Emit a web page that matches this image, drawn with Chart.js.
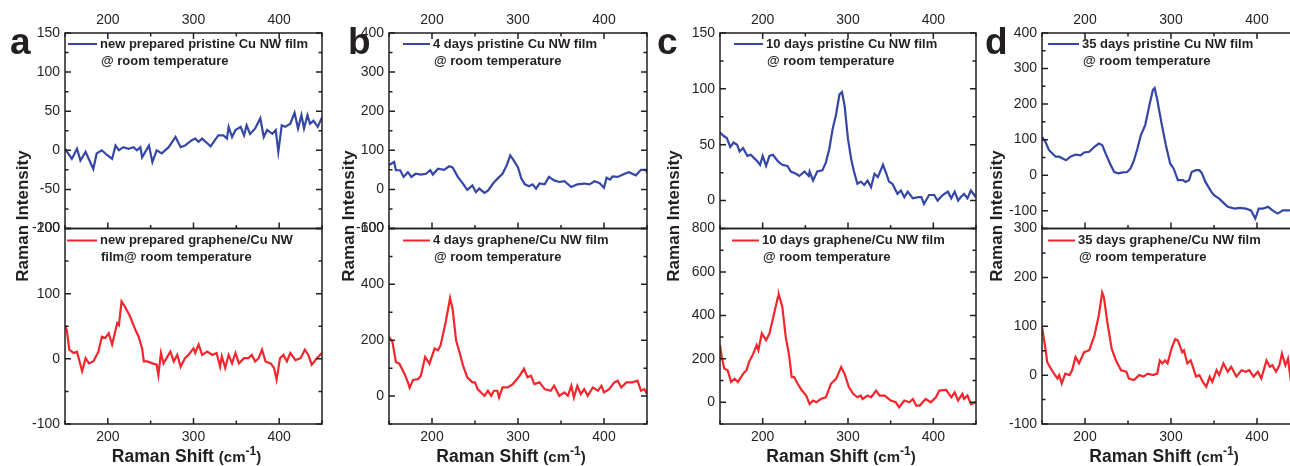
<!DOCTYPE html>
<html>
<head>
<meta charset="utf-8">
<script src="https://cdn.jsdelivr.net/npm/chart.js@4.4.1/dist/chart.umd.min.js"></script>
<style>
  html, body { margin: 0; padding: 0; background: #fff; width: 1290px; height: 466px; overflow: hidden; }
  canvas { position: absolute; top: 0; }
</style>
</head>
<body>
<canvas id="panel-a" width="326" height="466" style="left:0px"></canvas>
<canvas id="panel-b" width="328" height="466" style="left:326px"></canvas>
<canvas id="panel-c" width="323" height="466" style="left:654px"></canvas>
<canvas id="panel-d" width="330" height="466" style="left:977px"></canvas>
<script>
/* Raman spectra of pristine vs graphene-coated Cu NW films, 4 ageing stages,
   each panel = two stacked subplots sharing the Raman shift axis. */

// ─── Data ───────────────────────────────────────────────────────────────────

const X_RANGE = [150, 450];
const X_TICKS = [200, 300, 400];

// a — new prepared
const aPristineX = [150,158,164,168,174,183,187,193,199,205,209,213,218,224,230,234,238,240,248,252,257,263,271,279,285,290,298,302,306,310,316,320,325,329,335,339,341,345,349,355,359,362,366,372,378,382,386,392,396,399,403,407,413,418,422,426,429,433,436,440,445,450];
const aPristineY = [2,-11,2,-13,-2,-24,-4,0,-6,-11,6,0,4,2,4,0,4,-9,6,-15,0,-4,4,17,4,6,13,15,11,15,9,5,13,19,19,15,30,17,26,30,19,32,21,28,41,17,26,21,26,-2,32,30,34,48,28,45,28,45,34,38,30,42];
const aGrapheneX = [150,152,155,160,164,170,174,178,183,185,189,193,197,201,205,211,213,216,220,226,232,236,240,242,246,252,257,259,262,265,273,277,281,285,290,294,300,302,306,310,316,322,327,331,333,337,341,345,349,353,359,364,368,372,376,380,384,390,394,397,401,405,409,413,419,425,430,434,438,444,450];
const aGrapheneY = [50,45,14,9,11,-19,1,-7,-4,1,11,34,32,39,22,55,52,88,80,65,45,34,16,-4,-4,-7,-9,-25,9,-7,11,-4,6,-12,1,6,16,9,22,6,11,6,9,-12,4,-14,6,-7,9,-7,1,1,6,-4,1,14,-4,-7,-14,-32,1,6,-4,9,-2,1,14,6,-9,1,9];
const aTopRange = [-100, 150];
const aTopTicks = [-100, -50, 0, 50, 100, 150];
const aBotRange = [-100, 200];
const aBotTicks = [-100, 0, 100, 200];
const aTopLegend = ['new prepared pristine Cu NW film', '@ room temperature'];
const aBotLegend = ['new prepared graphene/Cu NW', 'film@ room temperature'];

// b — 4 days
const bPristineX = [150,156,158,163,167,172,176,181,187,193,198,201,207,214,220,224,230,236,241,247,251,255,261,265,271,276,282,287,291,295,300,304,308,313,317,321,325,331,336,342,348,354,362,369,377,383,389,395,400,403,407,410,416,424,429,437,443,449,450];
const bPristineY = [62,70,49,49,32,44,32,40,38,40,49,38,53,50,59,56,32,15,-1,10,-7,2,-9,-3,15,27,40,62,87,74,56,27,13,8,13,2,15,13,32,23,19,21,6,13,15,13,21,16,4,30,25,33,32,40,44,36,50,50,42];
const bGrapheneX = [150,154,158,162,168,172,174,178,184,187,192,197,203,207,210,216,221,224,228,232,236,241,247,250,253,257,261,265,269,272,276,278,282,288,294,302,307,311,315,319,325,331,338,342,348,354,358,362,365,369,373,377,381,387,393,397,400,406,412,416,420,426,433,439,443,447,450];
const bGrapheneY = [212,194,122,116,80,49,30,58,61,73,140,116,170,164,182,266,351,310,200,157,110,67,49,49,25,13,1,19,1,19,19,-5,31,31,43,73,98,67,73,43,49,25,19,37,1,13,1,37,-5,37,7,25,1,31,19,37,13,25,49,55,31,49,49,55,19,25,7];
const bTopRange = [-100, 400];
const bTopTicks = [-100, 0, 100, 200, 300, 400];
const bBotRange = [-100, 600];
const bBotTicks = [0, 200, 400, 600];
const bTopLegend = ['4 days pristine Cu NW film', '@ room temperature'];
const bBotLegend = ['4 days graphene/Cu NW film', '@ room temperature'];

// c — 10 days
const cPristineX = [150,154,158,162,166,170,173,177,182,186,190,194,197,200,204,208,212,218,223,229,233,239,243,249,254,255,259,264,270,274,278,282,286,290,293,296,300,304,307,311,315,319,323,327,331,335,341,345,348,352,358,362,366,370,376,382,386,389,395,401,405,411,417,421,425,429,432,436,440,444,448,450];
const cPristineY = [61,58,56,48,52,50,44,47,40,41,38,35,32,40,31,40,41,35,32,31,26,24,22,26,22,26,18,26,27,34,46,64,77,95,97,85,55,36,26,15,17,14,18,12,24,21,32,24,17,15,6,9,3,8,2,3,3,-3,5,5,0,5,8,2,8,0,3,6,2,9,5,3];
const cGrapheneX = [150,152,155,159,163,167,171,177,181,184,189,193,195,199,204,208,213,218,219,223,227,231,234,237,241,246,251,255,259,263,268,274,280,286,292,296,301,306,311,315,317,323,327,333,337,343,350,356,360,366,372,376,380,384,391,397,403,407,415,421,425,429,434,436,440,444,450];
const cGrapheneY = [263,209,155,147,93,108,93,131,147,185,224,263,240,317,286,317,402,487,495,440,301,216,116,116,85,54,31,-8,8,0,15,23,85,108,162,131,70,39,23,31,15,31,23,54,31,31,8,0,-23,8,0,15,-15,-15,15,0,23,54,57,23,46,8,39,15,31,-8,0];
const cTopRange = [-25, 150];
const cTopTicks = [0, 50, 100, 150];
const cBotRange = [-100, 800];
const cBotTicks = [0, 200, 400, 600, 800];
const cTopLegend = ['10 days pristine Cu NW film', '@ room temperature'];
const cBotLegend = ['10 days graphene/Cu NW film', '@ room temperature'];

// d — 35 days
const dPristineX = [150,154,158,162,166,170,174,178,183,189,195,199,205,211,216,220,224,229,234,239,244,249,253,257,261,265,270,275,279,281,284,289,294,299,303,308,314,317,321,324,329,333,336,340,347,350,356,362,366,374,380,387,393,398,402,407,413,418,424,430,439,445,450];
const dPristineY = [108,94,71,61,52,52,47,42,52,58,56,64,66,80,89,85,61,33,9,5,8,9,19,42,75,113,141,198,240,245,212,146,85,33,19,-14,-14,-19,-14,9,14,14,5,-19,-47,-56,-66,-80,-89,-94,-92,-94,-99,-122,-94,-94,-89,-99,-108,-99,-99,-100,-98];
const dGrapheneX = [150,154,156,160,164,168,170,173,177,182,185,189,193,199,205,211,216,220,222,226,231,236,242,248,251,257,263,268,273,279,284,287,290,293,296,301,305,308,313,315,319,323,326,329,333,337,341,345,348,353,356,361,366,370,376,382,387,391,396,401,405,411,415,418,422,426,429,433,436,439,445,450];
const dGrapheneY = [98,54,27,14,3,-7,0,-17,3,0,10,37,24,47,51,81,122,169,159,108,54,30,10,7,-7,-10,0,-3,3,0,3,30,24,30,24,57,74,71,47,51,24,30,14,-3,0,-14,-24,-3,-14,10,0,24,7,17,-3,10,7,10,-3,7,-7,30,17,20,7,20,44,20,34,-7,10,5];
const dTopRange = [-150, 400];
const dTopTicks = [-100, 0, 100, 200, 300, 400];
const dBotRange = [-100, 300];
const dBotTicks = [-100, 0, 100, 200, 300];
const dTopLegend = ['35 days pristine Cu NW film', '@ room temperature'];
const dBotLegend = ['35 days graphene/Cu NW film', '@ room temperature'];

// ─── Style ──────────────────────────────────────────────────────────────────

const BLUE = '#3447a6';
const RED = '#f2262c';
const INK = '#231f20';
const FONT = "'Liberation Sans', Arial, sans-serif";
const TOP_AXIS_H = 33;
const BOTTOM_AXIS_H = 42;

const PANELS = [
  { id: 'panel-a', letter: 'a', left: 0, width: 326, plotLeft: 65, plotRight: 322, letterX: 10, yTitleX: 23,
    top: { xs: aPristineX, ys: aPristineY, range: aTopRange, ticks: aTopTicks, legend: aTopLegend, color: BLUE, lineX: 3, textX: 35 },
    bot: { xs: aGrapheneX, ys: aGrapheneY, range: aBotRange, ticks: aBotTicks, legend: aBotLegend, color: RED, lineX: 2, textX: 35 } },
  { id: 'panel-b', letter: 'b', left: 326, width: 328, plotLeft: 389, plotRight: 647, letterX: 22, yTitleX: 23,
    top: { xs: bPristineX, ys: bPristineY, range: bTopRange, ticks: bTopTicks, legend: bTopLegend, color: BLUE, lineX: 14, textX: 44 },
    bot: { xs: bGrapheneX, ys: bGrapheneY, range: bBotRange, ticks: bBotTicks, legend: bBotLegend, color: RED, lineX: 14, textX: 44 } },
  { id: 'panel-c', letter: 'c', left: 654, width: 323, plotLeft: 720, plotRight: 976, letterX: 3, yTitleX: 20,
    top: { xs: cPristineX, ys: cPristineY, range: cTopRange, ticks: cTopTicks, legend: cTopLegend, color: BLUE, lineX: 14, textX: 46 },
    bot: { xs: cGrapheneX, ys: cGrapheneY, range: cBotRange, ticks: cBotTicks, legend: cBotLegend, color: RED, lineX: 12, textX: 42 } },
  { id: 'panel-d', letter: 'd', left: 977, width: 330, plotLeft: 1042, plotRight: 1300, letterX: 8, yTitleX: 20,
    top: { xs: dPristineX, ys: dPristineY, range: dTopRange, ticks: dTopTicks, legend: dTopLegend, color: BLUE, lineX: 6, textX: 40 },
    bot: { xs: dGrapheneX, ys: dGrapheneY, range: dBotRange, ticks: dBotTicks, legend: dBotLegend, color: RED, lineX: 6, textX: 36 } },
];

// ─── Decorations: frames, inward ticks, in-plot legends, titles ─────────────

function minorsOf(majors, min, max) {
  const step = majors[1] - majors[0];
  const out = [];
  for (let v = majors[0] - step / 2; v >= min; v -= step) out.push(v);
  majors.forEach(m => { if (m + step / 2 <= max) out.push(m + step / 2); });
  return out;
}

const panelDecor = {
  id: 'panelDecor',
  afterDatasetsDraw(chart) {
    const ctx = chart.ctx;
    const xs = chart.scales.x;
    const L = xs.left, R = xs.right;
    const xMinors = [150, 250, 350, 450];

    ctx.save();
    ctx.strokeStyle = INK;
    ctx.lineWidth = 1.5;

    ['yTop', 'yBot'].forEach(id => {
      const ys = chart.scales[id];
      const T = ys.top, B = ys.bottom;
      ctx.strokeRect(L, T, R - L, B - T);

      const yMajors = ys.ticks.map(t => t.value);
      const yMinors = minorsOf(yMajors, ys.min, ys.max);
      ctx.beginPath();
      const hTick = (v, len) => {
        const py = ys.getPixelForValue(v);
        ctx.moveTo(L, py); ctx.lineTo(L + len, py);
        ctx.moveTo(R, py); ctx.lineTo(R - len, py);
      };
      yMajors.forEach(v => hTick(v, 6));
      yMinors.forEach(v => hTick(v, 3.5));

      const vTick = (v, len, edgeY, dir) => {
        const px = xs.getPixelForValue(v);
        ctx.moveTo(px, edgeY); ctx.lineTo(px, edgeY + dir * len);
      };
      X_TICKS.forEach(v => vTick(v, 6, B, -1));
      xMinors.forEach(v => vTick(v, 3.5, B, -1));
      if (id === 'yTop') {
        X_TICKS.forEach(v => vTick(v, 6, T, 1));
        xMinors.forEach(v => vTick(v, 3.5, T, 1));
      }
      ctx.stroke();
    });
    ctx.restore();
  },
  afterDraw(chart) {
    const p = chart.options.plugins.panelDecor.panel;
    const ctx = chart.ctx;
    const xs = chart.scales.x;
    const L = xs.left;

    ctx.save();
    // legends inside each subplot
    [['yTop', p.top, 11], ['yBot', p.bot, 12]].forEach(([id, sub, dy]) => {
      const ys = chart.scales[id];
      const y1 = ys.top + dy;
      const y2 = y1 + 17;
      ctx.strokeStyle = sub.color;
      ctx.lineWidth = 2;
      ctx.beginPath();
      ctx.moveTo(L + sub.lineX, y1);
      ctx.lineTo(L + sub.textX - 3, y1);
      ctx.stroke();
      ctx.fillStyle = INK;
      ctx.font = `bold 13px ${FONT}`;
      ctx.textAlign = 'left';
      ctx.textBaseline = 'middle';
      ctx.fillText(sub.legend[0], L + sub.textX, y1);
      ctx.fillText(sub.legend[1], L + sub.textX + 1, y2);
    });

    // panel letter
    ctx.font = `bold 37px ${FONT}`;
    ctx.textBaseline = 'alphabetic';
    ctx.fillText(p.letter, p.letterX, 54);

    // shared y title
    ctx.save();
    ctx.translate(p.yTitleX, 216);
    ctx.rotate(-Math.PI / 2);
    ctx.font = `bold 17px ${FONT}`;
    ctx.textAlign = 'center';
    ctx.textBaseline = 'middle';
    ctx.fillText('Raman Intensity', 0, 0);
    ctx.restore();

    // x title with superscript
    const parts = [
      { t: 'Raman Shift ', f: `bold 17.5px ${FONT}`, dy: 0 },
      { t: '(cm', f: `bold 15px ${FONT}`, dy: 0 },
      { t: '-1', f: `bold 12px ${FONT}`, dy: -7 },
      { t: ')', f: `bold 15px ${FONT}`, dy: 0 },
    ];
    let total = 0;
    parts.forEach(pt => { ctx.font = pt.f; pt.w = ctx.measureText(pt.t).width; total += pt.w; });
    let cx = (xs.left + xs.right) / 2 - 7 - total / 2;
    const base = 462;
    ctx.textAlign = 'left';
    ctx.textBaseline = 'alphabetic';
    parts.forEach(pt => { ctx.font = pt.f; ctx.fillText(pt.t, cx, base + pt.dy); cx += pt.w; });
    ctx.restore();
  },
};

// ─── Charts ─────────────────────────────────────────────────────────────────

function tickFont() {
  return { family: FONT, size: 14 };
}

function xAxis(position, height, padding) {
  return {
    type: 'linear',
    axis: 'x',
    position,
    min: X_RANGE[0],
    max: X_RANGE[1],
    afterBuildTicks: s => { s.ticks = X_TICKS.map(v => ({ value: v })); },
    afterFit: s => { s.height = height; },
    grid: { display: false, drawTicks: false },
    border: { display: false },
    ticks: { font: tickFont(), color: INK, padding, autoSkip: false, maxRotation: 0 },
  };
}

function yAxis(sub, width) {
  return {
    type: 'linear',
    axis: 'y',
    position: 'left',
    stack: 'panel',
    stackWeight: 1,
    min: sub.range[0],
    max: sub.range[1],
    afterBuildTicks: s => { s.ticks = sub.ticks.map(v => ({ value: v })); },
    afterFit: s => { s.width = width; },
    grid: { display: false, drawTicks: false },
    border: { display: false },
    ticks: { font: tickFont(), color: INK, padding: 5, autoSkip: false },
  };
}

function toPoints(xs, ys) {
  return xs.map((x, i) => ({ x, y: ys[i] }));
}

function renderPanel(p) {
  const ctx = document.getElementById(p.id).getContext('2d');
  const yWidth = p.plotLeft - p.left;
  const rightPad = p.width - (p.plotRight - p.left);

  new Chart(ctx, {
    type: 'line',
    data: {
      datasets: [
        { data: toPoints(p.top.xs, p.top.ys), xAxisID: 'x', yAxisID: 'yTop', borderColor: p.top.color, borderWidth: 2.2, pointRadius: 0, tension: 0 },
        { data: toPoints(p.bot.xs, p.bot.ys), xAxisID: 'x', yAxisID: 'yBot', borderColor: p.bot.color, borderWidth: 2.2, pointRadius: 0, tension: 0 },
      ],
    },
    options: {
      responsive: false,
      animation: false,
      layout: { padding: { left: 0, right: rightPad, top: 0, bottom: 0 } },
      plugins: {
        legend: { display: false },
        tooltip: { enabled: false },
        panelDecor: { panel: p },
      },
      // left boxes stack in reverse order: the later axis lands on top
      scales: {
        x: xAxis('bottom', BOTTOM_AXIS_H, 5),
        xTop: xAxis('top', TOP_AXIS_H, 4),
        yBot: yAxis(p.bot, yWidth),
        yTop: yAxis(p.top, yWidth),
      },
    },
    plugins: [panelDecor],
  });
}

PANELS.forEach(renderPanel);
</script>
</body>
</html>
